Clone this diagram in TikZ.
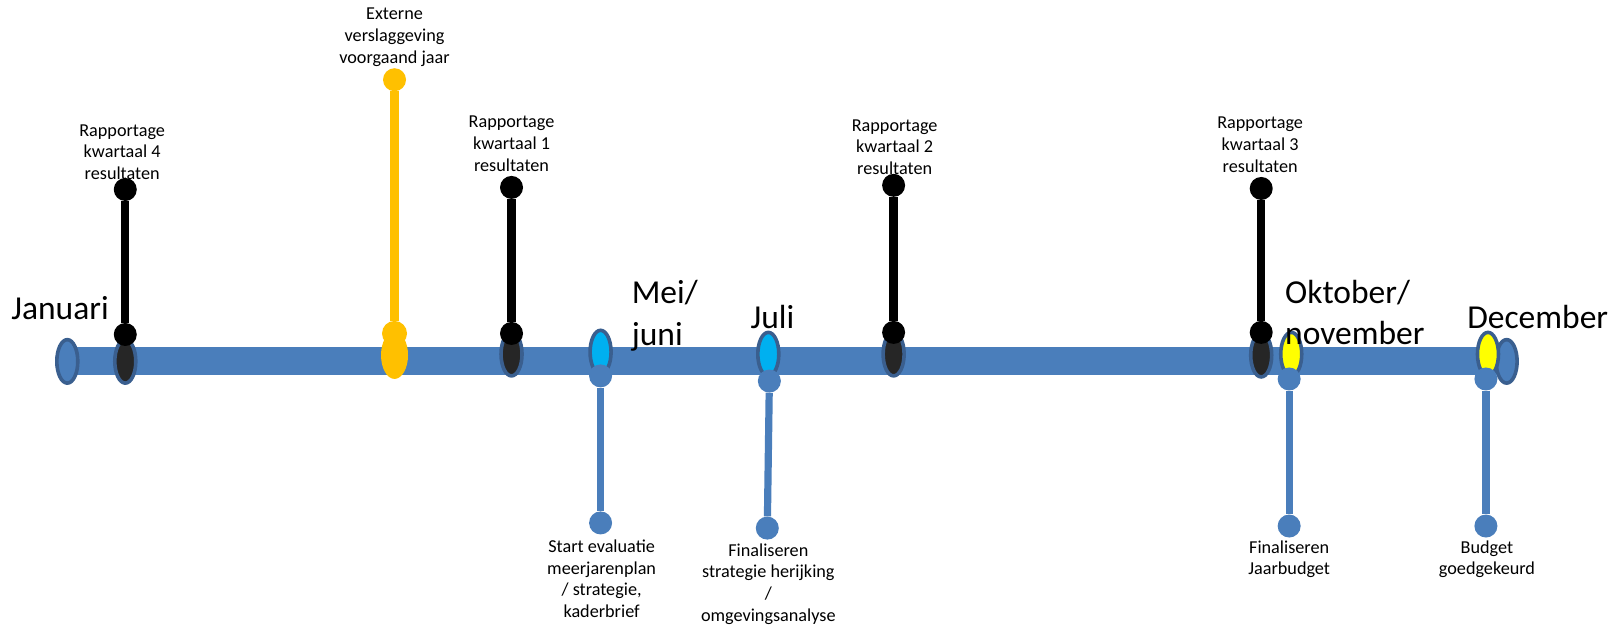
\documentclass[tikz,border=0pt]{standalone}
\usepackage{fontspec}
\setmainfont{Carlito}
\usetikzlibrary{shapes.geometric}
\definecolor{barblue}{HTML}{4A7EBB}
\definecolor{edgeblue}{HTML}{3A5F8F}
\definecolor{darkfill}{HTML}{262626}
\definecolor{orangec}{HTML}{FFC000}
\definecolor{yellowc}{HTML}{FFFF00}
\definecolor{cyanc}{HTML}{00B0F0}
\tikzset{
  dot/.style={circle, inner sep=0pt, minimum size=23pt},
  ell/.style={ellipse, inner sep=0pt, minimum width=21pt, minimum height=43.5pt, line width=3.6pt, draw=edgeblue},
  small/.style={align=center, inner sep=0pt, font=\fontsize{18.2}{21.8}\selectfont},
  month/.style={inner sep=0pt, font=\fontsize{33.5}{41.5}\selectfont},
  blackstem/.style={line width=8.3pt, black},
  bluestem/.style={line width=7.2pt, barblue},
  orangestem/.style={line width=9.3pt, orangec}
}
\begin{document}
\begin{tikzpicture}[x=1.0355pt,y=-1.0355pt]
\useasboundingbox (0,0) rectangle (1567.4,604.5);
% bar
\fill[barblue] (65,335) rectangle (1452,362);
% end ellipses
\node[ell, fill=barblue] (leftend) at (65,349) {};
\node[ell, fill=barblue] (rightend) at (1455,349) {};
% black quarter markers
\node[ell, fill=darkfill] (e4) at (121,349) {};
\node[ell, fill=darkfill] (e1) at (494,342) {};
\node[ell, fill=darkfill] (e2) at (863,342) {};
\node[ell, fill=darkfill] (e3) at (1218,343) {};
% orange
\node[ellipse, inner sep=0pt, minimum width=27pt, minimum height=47.5pt, fill=orangec] (eo) at (381,343) {};
% blue-lower markers
\node[ell, fill=cyanc] (em) at (580,340) {};
\node[ell, fill=cyanc] (ej) at (742,342) {};
\node[ell, fill=yellowc] (eok) at (1247,342) {};
\node[ell, fill=yellowc] (ed) at (1437,342) {};
% black stems and dots
\node[dot, fill=black] (t4) at (121,183) {};
\node[dot, fill=black] (b4) at (121,323) {};
\draw[blackstem] (t4) -- (b4);
\node[dot, fill=black] (t1) at (494,181) {};
\node[dot, fill=black] (b1) at (494,322) {};
\draw[blackstem] (t1) -- (b1);
\node[dot, fill=black] (t2) at (863,179) {};
\node[dot, fill=black] (b2) at (863,321) {};
\draw[blackstem] (t2) -- (b2);
\node[dot, fill=black] (t3) at (1218,182) {};
\node[dot, fill=black] (b3) at (1218,321) {};
\draw[blackstem] (t3) -- (b3);
% orange stem
\node[dot, fill=orangec] (to) at (381,77) {};
\node[dot, fill=orangec, minimum size=25pt] (bo) at (381,322) {};
\draw[orangestem] (to) -- (bo);
% blue stems
\node[dot, fill=barblue] (tm) at (580,363) {};
\node[dot, fill=barblue] (bm) at (580,505) {};
\draw[bluestem] (tm) -- (bm);
\node[dot, fill=barblue] (tj) at (743,368) {};
\node[dot, fill=barblue] (bj) at (741,510) {};
\draw[bluestem] (tj) -- (bj);
\node[dot, fill=barblue] (tok) at (1245,366) {};
\node[dot, fill=barblue] (bok) at (1245,508) {};
\draw[bluestem] (tok) -- (bok);
\node[dot, fill=barblue] (td) at (1435,366) {};
\node[dot, fill=barblue] (bd) at (1435,508) {};
\draw[bluestem] (td) -- (bd);
% month labels
\node[month] (jan) at (58,298) {Januari};
\node[month, align=left, anchor=west] (mei) at (610,305) {Mei/\\juni};
\node[month] (jul) at (746,306) {Juli};
\node[month, align=left, anchor=west] (okt) at (1241,302) {Oktober/\\november};
\node[month] (dec) at (1485,306) {December};
% small labels
\node[small] (l4) at (118,147) {Rapportage\\kwartaal 4\\resultaten};
\node[small] (lo) at (381,36) {Externe\\verslaggeving\\voorgaand jaar};
\node[small] (l1) at (494,139) {Rapportage\\kwartaal 1\\resultaten};
\node[small] (l2) at (864,142) {Rapportage\\kwartaal 2\\resultaten};
\node[small] (l3) at (1217,140) {Rapportage\\kwartaal 3\\resultaten};
\node[small] (lm) at (581,559) {Start evaluatie\\meerjarenplan\\/ strategie,\\kaderbrief};
\node[small] (lj) at (742,564) {Finaliseren\\strategie herijking\\/\\omgevingsanalyse};
\node[small] (lok) at (1245,540) {Finaliseren\\Jaarbudget};
\node[small] (ld) at (1436,540) {Budget\\goedgekeurd};
\end{tikzpicture}
\end{document}
